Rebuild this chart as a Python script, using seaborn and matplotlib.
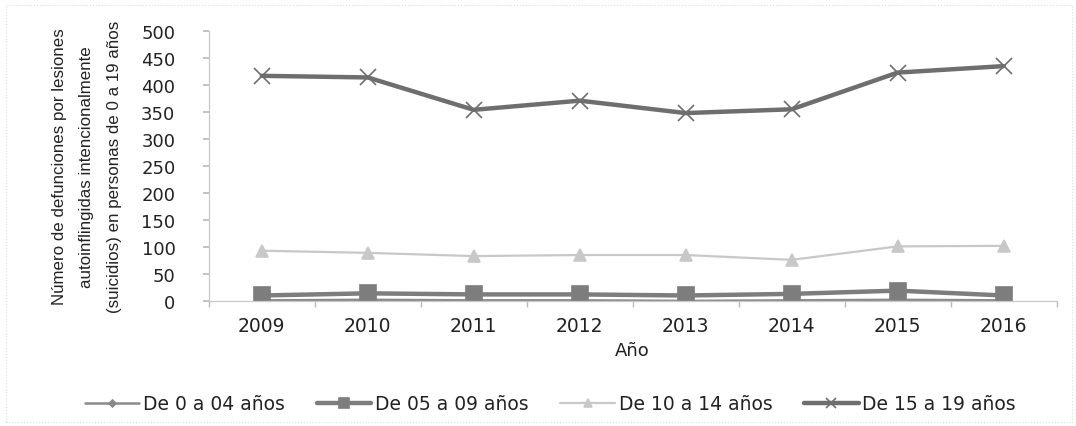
import matplotlib
matplotlib.use("Agg")
import matplotlib.pyplot as plt
import seaborn as sns
import pandas as pd
import numpy as np
from matplotlib.patches import Rectangle

years = [2009, 2010, 2011, 2012, 2013, 2014, 2015, 2016]
de_0_04 = [1, 2, 1, 1, 0, 1, 2, 1]
de_05_09 = [10, 14, 12, 12, 10, 13, 19, 10]
de_10_14 = [93, 89, 83, 85, 85, 76, 101, 102]
de_15_19 = [417, 414, 354, 371, 348, 355, 423, 435]
series_names = ["De 0 a 04 años", "De 05 a 09 años", "De 10 a 14 años", "De 15 a 19 años"]
y_ticks = [0, 50, 100, 150, 200, 250, 300, 350, 400, 450, 500]

sns.set_theme(style="white")
plt.rcParams['font.family'] = ['DejaVu Sans']

df = pd.DataFrame({
    "Año": years * 4,
    "valor": de_0_04 + de_05_09 + de_10_14 + de_15_19,
    "serie": sum([[n] * len(years) for n in series_names], []),
})

fig = plt.figure(figsize=(10.76, 4.27), dpi=100)
ax = fig.add_axes([0.194, 0.293, 0.788, 0.632])

styles = {
    "De 0 a 04 años": dict(color="#8a8a8a", marker="D", ms=5, lw=1.8),
    "De 05 a 09 años": dict(color="#7d7d7d", marker="s", ms=11, lw=3.2),
    "De 10 a 14 años": dict(color="#c8c8c8", marker="^", ms=9, lw=1.6),
    "De 15 a 19 años": dict(color="#6e6e6e", marker="x", ms=11, lw=3.2),
}
for name in series_names:
    st = styles[name]
    sub = df[df["serie"] == name]
    sns.lineplot(data=sub, x="Año", y="valor", ax=ax, color=st["color"], marker=st["marker"],
                 markersize=st["ms"], linewidth=st["lw"], markeredgecolor=st["color"],
                 markeredgewidth=1.2, label=name)

ax.set_xlim(2008.5, 2016.5)
ax.set_ylim(0, 500)
ax.set_yticks(y_ticks)
ax.set_xticks(years)
ax.set_xticks(np.arange(2008.5, 2017, 1.0), minor=True)
ax.tick_params(axis="x", which="major", length=0, labelsize=13.5, colors="#222222", pad=11)
ax.tick_params(axis="x", which="minor", length=4, color="#bbbbbb", bottom=True)
ax.tick_params(axis="y", length=4, color="#bbbbbb", left=True, labelsize=13, labelcolor="#222222", pad=20)
for s in ["top", "right"]:
    ax.spines[s].set_visible(False)
for s in ["left", "bottom"]:
    ax.spines[s].set_color("#c8c8c8")
    ax.spines[s].set_linewidth(0.9)

ax.set_xlabel("Año", fontsize=13, color="#222222", labelpad=4)
ax.set_ylabel("Número de defunciones por lesiones\nautoinflingidas intencionalmente\n(suicidios) en personas de 0 a 19 años",
              fontsize=12.2, color="#222222", family=["Liberation Sans", "DejaVu Sans"],
              labelpad=14, linespacing=2.05)

ax.legend(loc="center", bbox_to_anchor=(0.403, -0.381), ncol=4, frameon=False,
          prop={"family": ["DejaVu Sans"], "size": 13.5},
          handlelength=2.9, columnspacing=1.7, handletextpad=0.2, markerscale=0.7)
for t in ax.get_legend().get_texts():
    t.set_color("#222222")

fig.patches.append(Rectangle((0.006, 0.01), 0.99, 0.975, transform=fig.transFigure,
                             fill=False, edgecolor="#dddddd", lw=0.8, linestyle=":"))

fig.savefig("out.png", dpi=100, facecolor="white")
